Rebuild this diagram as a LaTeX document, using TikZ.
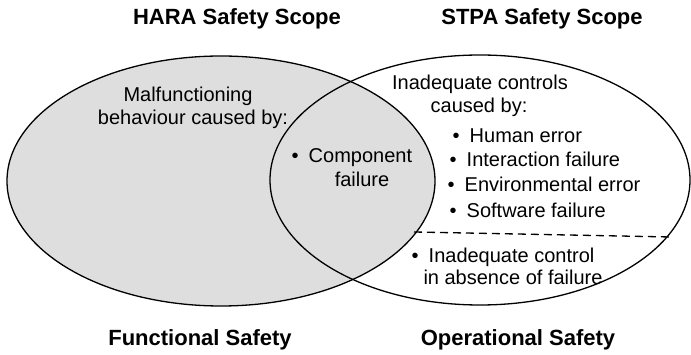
\documentclass[tikz,border=0pt]{standalone}
\usepackage{fontspec}
\setmainfont{Liberation Sans}
\usetikzlibrary{positioning}
\definecolor{harafill}{HTML}{DEDEDE}
\tikzset{
  scopetitle/.style={font=\fontsize{22}{26}\selectfont\bfseries, anchor=base, inner sep=0pt},
  bodytext/.style={font=\fontsize{20}{24}\selectfont, anchor=base, inner sep=0pt},
  bulletitem/.style={bodytext, anchor=base west},
}
\begin{document}
\begin{tikzpicture}[x=1pt, y=-1pt]
\useasboundingbox (0,0) rectangle (691,355);
% the two scopes
\filldraw[fill=harafill, draw=black, line width=1.3pt] (221,181) ellipse (214 and 125);
\draw[line width=1.3pt] (480,180) ellipse (210 and 125);
\coordinate (dashL) at (414,232);
\coordinate (dashR) at (671,237);
\draw[line width=1.3pt, dash pattern=on 8pt off 5pt] (dashL) -- (dashR);
% titles
\node[scopetitle] (hara) at (237,25) {HARA Safety Scope};
\node[scopetitle] (stpa) at (542,25) {STPA Safety Scope};
\node[scopetitle] (func) at (200,345) {Functional Safety};
\node[scopetitle] (oper) at (518,345) {Operational Safety};
% HARA side
\node[bodytext] (malf1) at (188,102) {Malfunctioning};
\node[bodytext] (malf2) at (193,125) {behaviour caused by:};
\node[bulletitem] (comp1) at (291.5,163) {•\enspace Component};
\node[bodytext] (comp2) at (362,187) {failure};
% STPA side
\node[bodytext] (inad1) at (480,90) {Inadequate controls};
\node[bodytext] (inad2) at (479,113) {caused by:};
\node[bulletitem] (human) at (452.5,143) {•\enspace Human error};
\node[bulletitem] (inter) at (449.5,167) {•\enspace Interaction failure};
\node[bulletitem] (envir) at (447.5,192) {•\enspace Environmental error};
\node[bulletitem] (softw) at (449.5,218) {•\enspace Software failure};
\node[bulletitem] (absn1) at (411.5,263) {•\enspace Inadequate control};
\node[bodytext] (absn2) at (513,285) {in absence of failure};
\end{tikzpicture}
\end{document}
